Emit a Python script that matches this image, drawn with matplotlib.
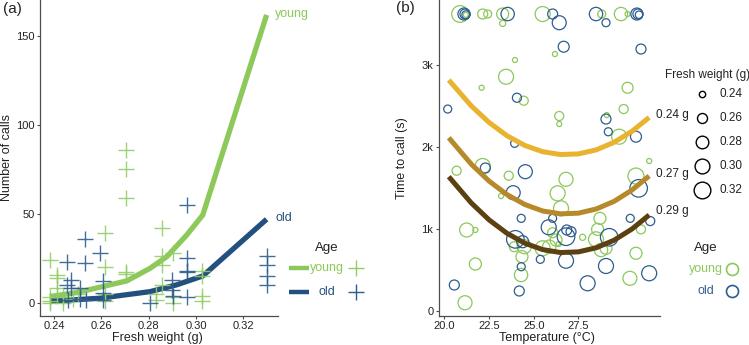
import matplotlib
matplotlib.use("Agg")
import matplotlib.pyplot as plt
import numpy as np
from matplotlib.lines import Line2D

plt.rcParams['font.family'] = ['Liberation Sans', 'DejaVu Sans']

W, H = 749, 345
YOUNG = '#8CC85A'
OLD = '#23507E'
YOUNG_PT = '#93CC66'
OLD_PT = '#2E5D8E'
TXT = '#222222'

# ---------------- Panel (a) data ----------------
young_cross_x = [0.2385, 0.2385, 0.2385, 0.2385, 0.2412, 0.2412, 0.2412, 0.2412,
                 0.2440, 0.2440, 0.2480, 0.2500, 0.2614, 0.2614, 0.2614, 0.2614,
                 0.2706, 0.2706, 0.2706, 0.2706, 0.2706, 0.2832, 0.2832,
                 0.2855, 0.2855, 0.2855, 0.2855, 0.2905, 0.2905, 0.2905,
                 0.3025, 0.3025, 0.3025, 0.3025]
young_cross_y = [24, 3.4, 1, 0, 15.6, 13.7, 8, 5,
                 3, 0, 2, 5, 39, 20, 5, 1,
                 86, 75, 59, 17, 16, 5, 1.5,
                 42, 26, 21, 10, 28, 3, 0,
                 18, 15, 4, 1]
old_cross_x = [0.2454, 0.2454, 0.2459, 0.2473, 0.2473, 0.2509, 0.2509,
               0.2530, 0.2530, 0.2537, 0.2593, 0.2607, 0.2607, 0.2607,
               0.2805, 0.2898, 0.2898, 0.2905,
               0.2961, 0.2961, 0.2961, 0.2961, 0.2961,
               0.3299, 0.3299, 0.3299, 0.3299]
old_cross_y = [23, 10, 1.5, 13, 8, 8, 2,
               36, 22.5, 1.5, 28, 12, 5.5, 1.5,
               0, 13, 7, 4,
               55, 25, 18, 17, 3,
               26, 21, 15, 10]
young_line_x = [0.2383, 0.2500, 0.2594, 0.2707, 0.2806, 0.2877, 0.2961, 0.3029, 0.3299]
young_line_y = [3.4, 5.8, 8.7, 12.2, 19.3, 25.9, 38.0, 49.3, 161.8]
old_line_x = [0.2383, 0.2594, 0.2806, 0.2918, 0.3029, 0.3299]
old_line_y = [0.8, 2.5, 6.2, 10.0, 15.0, 46.9]

a_xticks = [0.24, 0.26, 0.28, 0.30, 0.32]
a_xticklabels = ['0.24', '0.26', '0.28', '0.30', '0.32']
a_yticks = [0, 50, 100, 150]

# ---------------- Panel (b) data ----------------
young_t = [20.87, 21.20, 22.14, 22.42, 23.26, 23.26, 25.50, 28.81, 29.89, 30.26,
           26.19, 23.95, 23.45, 22.08, 30.26, 24.44, 30.04, 26.43, 26.43, 29.09,
           29.79, 20.68, 22.14, 23.60, 23.17, 26.81, 26.34, 26.53, 30.73, 31.47,
           28.71, 21.24, 21.73, 26.06, 27.74, 28.58, 28.49, 31.01, 24.47, 23.91,
           25.50, 26.25, 25.87, 26.40, 28.77, 29.05, 24.34, 30.73, 24.29, 21.73,
           30.39, 21.15]
young_time = [3616, 3607, 3616, 3616, 3616, 3502, 3616, 3616, 3616, 3616,
              3128, 3055, 2851, 2717, 2717, 2559, 2457, 2372, 2274, 2384,
              2120, 1705, 1762, 1644, 1396, 1600, 1429, 1246, 1640, 1823,
              1124, 982, 982, 949, 893, 990, 868, 990, 778, 778,
              759, 860, 778, 811, 738, 759, 656, 698, 433, 567,
              393, 95]
young_w = [0.32, 0.235, 0.26, 0.248, 0.275, 0.239, 0.302, 0.248, 0.286, 0.235,
           0.235, 0.235, 0.302, 0.235, 0.267, 0.254, 0.254, 0.254, 0.235, 0.235,
           0.302, 0.254, 0.302, 0.254, 0.235, 0.292, 0.302, 0.302, 0.312, 0.235,
           0.275, 0.292, 0.235, 0.26, 0.239, 0.275, 0.302, 0.254, 0.292, 0.26,
           0.302, 0.275, 0.286, 0.235, 0.286, 0.275, 0.275, 0.275, 0.286, 0.275,
           0.292, 0.292]
old_t = [21.09, 21.15, 21.20, 23.54, 26.06, 26.43, 28.49, 29.05, 30.78, 30.84,
         30.90, 26.68, 31.01, 24.06, 20.18, 29.05, 29.18, 30.73, 23.93, 22.29,
         24.53, 23.85, 30.88, 24.30, 26.06, 30.41, 31.53, 25.84, 26.85, 27.09,
         29.23, 23.97, 24.38, 26.81, 25.37, 26.81, 24.30, 29.05, 28.02, 31.47,
         20.55, 24.19]
old_time = [3616, 3616, 3607, 3616, 3616, 3510, 3616, 3510, 3616, 3616,
            3607, 3217, 3189, 2595, 2457, 2335, 2180, 2120, 2039, 1738,
            1693, 1437, 1490, 1124, 1124, 1124, 1091, 1015, 982, 961,
            893, 868, 839, 900, 624, 607, 534, 543, 332, 454,
            311, 238]
old_w = [0.275, 0.26, 0.248, 0.286, 0.26, 0.292, 0.286, 0.248, 0.275, 0.26,
         0.245, 0.267, 0.26, 0.254, 0.248, 0.26, 0.248, 0.267, 0.248, 0.26,
         0.292, 0.292, 0.33, 0.248, 0.248, 0.248, 0.254, 0.302, 0.26, 0.26,
         0.33, 0.33, 0.275, 0.33, 0.248, 0.302, 0.248, 0.302, 0.302, 0.302,
         0.26, 0.26]

curve_t = [20.24, 21.5, 22.5, 23.5, 24.5, 25.5, 26.5, 27.5, 28.5, 29.5, 30.5, 31.47]
curve_024 = [2811, 2496, 2293, 2132, 2013, 1937, 1902, 1910, 1959, 2051, 2185, 2355]
curve_027 = [2107, 1785, 1578, 1414, 1293, 1214, 1179, 1187, 1238, 1331, 1468, 1641]
curve_029 = [1632, 1312, 1105, 942, 821, 743, 707, 715, 765, 857, 993, 1165]
curve_labels = ['0.24 g', '0.27 g', '0.29 g']
curve_colors = ['#E9B22F', '#B68A2B', '#5B4011']

b_xticks = [20.0, 22.5, 25.0, 27.5]
b_xticklabels = ['20.0', '22.5', '25.0', '27.5']
b_yticks = [0, 1000, 2000, 3000]
b_yticklabels = ['0', '1k', '2k', '3k']

size_legend_w = [0.24, 0.26, 0.28, 0.30, 0.32]
size_legend_labels = ['0.24', '0.26', '0.28', '0.30', '0.32']


def wsize(w):
    w = np.asarray(w, dtype=float)
    d_px = np.sqrt(np.maximum(2983.0 * w - 675.6, 16.0))
    return (d_px * 0.72) ** 2


def fx(x):
    return x / W


def fy(y):
    return 1 - y / H


fig = plt.figure(figsize=(W / 100, H / 100), dpi=100)


def style_axes(ax):
    for s in ['top', 'right']:
        ax.spines[s].set_visible(False)
    for s in ['left', 'bottom']:
        ax.spines[s].set_color('#4d4d4d')
        ax.spines[s].set_linewidth(0.9)
    ax.tick_params(axis='both', length=2.2, width=0.8, color='#4d4d4d',
                   labelsize=8, labelcolor=TXT, pad=1.5)


# ---------------- Panel (a) ----------------
axa = fig.add_axes([fx(40), 29 / H, (277.7 - 40) / W, 316 / H])
style_axes(axa)
axa.plot(young_line_x, young_line_y, color=YOUNG, lw=3.8, solid_capstyle='butt', zorder=2)
axa.plot(old_line_x, old_line_y, color=OLD, lw=3.8, solid_capstyle='butt', zorder=2)
axa.plot(young_cross_x, young_cross_y, ls='none', marker='+', ms=11, mew=1.0,
         color=YOUNG_PT, alpha=0.9, zorder=3)
axa.plot(old_cross_x, old_cross_y, ls='none', marker='+', ms=11, mew=1.0,
         color=OLD_PT, alpha=0.9, zorder=3)
axa.set_xlim(0.23408, 0.33459)
axa.set_ylim(-7.5, 170.2)
axa.set_xticks(a_xticks)
axa.set_xticklabels(a_xticklabels)
axa.set_yticks(a_yticks)
fig.text(fx(157), fy(338.5), 'Fresh weight (g)', fontsize=9, color=TXT, ha='center', va='center')
fig.text(fx(7), fy(158), 'Number of calls', fontsize=9, color=TXT, ha='center', va='center',
         rotation=90)
fig.text(fx(275), fy(14), 'young', color=YOUNG, fontsize=9, va='center', ha='left')
fig.text(fx(275), fy(218), 'old', color=OLD, fontsize=9, va='center', ha='left')
fig.text(fx(3), fy(9), '(a)', fontsize=11, va='center', ha='left', color=TXT)

# legend (a)
fig.text(fx(326.7), fy(247.5), 'Age', fontsize=9.5, ha='center', va='center', color=TXT)
for yy, col, lab, pcol in [(268.3, YOUNG, 'young', YOUNG_PT), (292.3, OLD, 'old', OLD_PT)]:
    fig.add_artist(Line2D([fx(289.3), fx(309.3)], [fy(yy), fy(yy)], color=col, lw=3.2,
                          solid_capstyle='butt'))
    fig.text(fx(327), fy(yy), lab, fontsize=9, ha='center', va='center', color=col)
    fig.add_artist(Line2D([fx(356)], [fy(yy)], ls='none', marker='+', ms=11, mew=1.0,
                          color=pcol))

# ---------------- Panel (b) ----------------
axb = fig.add_axes([fx(438.5), 29 / H, (659.7 - 438.5) / W, 316 / H])
style_axes(axb)
axb.scatter(young_t, young_time, s=wsize(young_w), facecolors='none',
            edgecolors=YOUNG, linewidths=0.9, zorder=2)
axb.scatter(old_t, old_time, s=wsize(old_w), facecolors='none',
            edgecolors=OLD_PT, linewidths=0.9, zorder=2)
for cy, col in zip([curve_024, curve_027, curve_029], curve_colors):
    axb.plot(curve_t, cy, color=col, lw=3.6, solid_capstyle='butt', zorder=3)
axb.set_xlim(19.664, 32.06)
axb.set_ylim(-67, 3787)
axb.set_xticks(b_xticks)
axb.set_xticklabels(b_xticklabels)
axb.set_yticks(b_yticks)
axb.set_yticklabels(b_yticklabels)
fig.text(fx(546.7), fy(338.5), 'Temperature (°C)', fontsize=9, color=TXT, ha='center', va='center')
fig.text(fx(402), fy(158), 'Time to call (s)', fontsize=9, color=TXT, ha='center', va='center',
         rotation=90)
for lab, ly in zip(curve_labels, [115, 174, 211]):
    fig.text(fx(656), fy(ly), lab, fontsize=8.5, ha='left', va='center', color=TXT)
fig.text(fx(396), fy(8), '(b)', fontsize=11, va='center', ha='left', color=TXT)

# size legend
fig.text(fx(665), fy(75), 'Fresh weight (g)', fontsize=8.5, ha='left', va='center', color=TXT)
for w, lab, yy in zip(size_legend_w, size_legend_labels, [94, 118.3, 141.7, 165.7, 190]):
    fig.add_artist(Line2D([fx(702.3)], [fy(yy)], ls='none', marker='o',
                          ms=np.sqrt(wsize(w)), mfc='none', mec='black', mew=1.0))
    fig.text(fx(719), fy(yy), lab, fontsize=8.5, ha='left', va='center', color=TXT)

# age legend (b)
fig.text(fx(705.5), fy(247.5), 'Age', fontsize=9.5, ha='center', va='center', color=TXT)
for yy, col, lab in [(269, YOUNG, 'young'), (291, OLD_PT, 'old')]:
    fig.text(fx(705.7), fy(yy), lab, fontsize=9, ha='center', va='center', color=col)
    fig.add_artist(Line2D([fx(731.7)], [fy(yy)], ls='none', marker='o',
                          ms=np.sqrt(wsize(0.275)), mfc='none', mec=col, mew=1.2))

fig.savefig('out.png', dpi=100)
